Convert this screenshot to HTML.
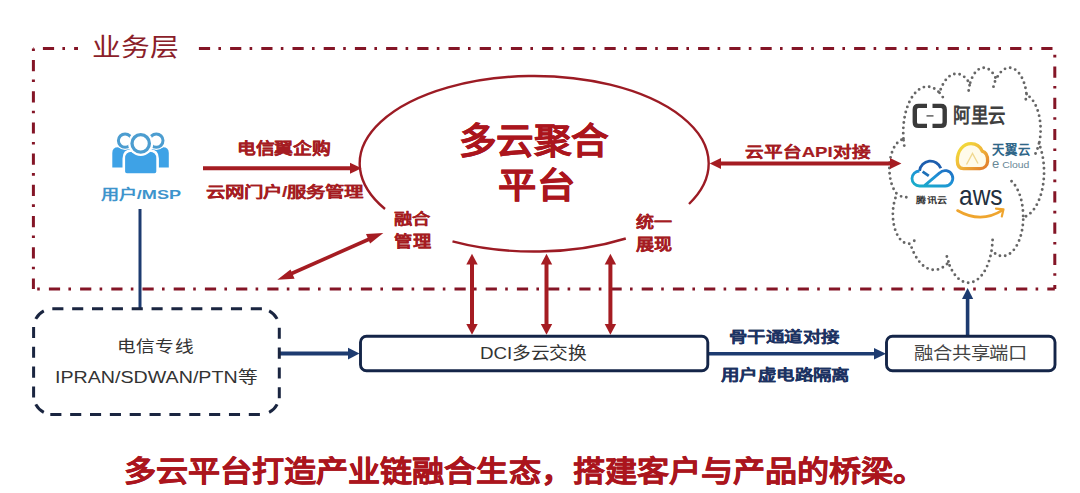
<!DOCTYPE html>
<html lang="zh-CN"><head><meta charset="utf-8">
<style>
html,body{margin:0;padding:0;background:#fff;}
body{width:1080px;height:493px;position:relative;overflow:hidden;font-family:"Liberation Sans",sans-serif;}
svg{position:absolute;left:0;top:0;}
.t{position:absolute;white-space:nowrap;line-height:1;transform-origin:0 0;}
</style></head><body>
<svg width="1080" height="493" viewBox="0 0 1080 493">
<defs>
<marker id="ar" viewBox="0 0 10 10" refX="10" refY="5" markerWidth="10" markerHeight="10" markerUnits="userSpaceOnUse" orient="auto-start-reverse"><path d="M0,0 L10,5 L0,10 z" fill="#a51c22"/></marker>
</defs>
<!-- business layer dash-dot border -->
<g stroke="#841526" stroke-width="3" fill="none" stroke-dasharray="11.2 8.3 2.6 9.1">
<line x1="33.4" y1="48.6" x2="1054.8" y2="48.6" stroke-dashoffset="21.7"/>
<line x1="1054.8" y1="48.6" x2="1054.8" y2="288.9" stroke-dashoffset="13.3"/>
<line x1="33.4" y1="288.9" x2="1054.8" y2="288.9" stroke-dashoffset="15.7"/>
<line x1="33.4" y1="48.6" x2="33.4" y2="288.9" stroke-dashoffset="19.8"/>
</g>
<rect x="78" y="38" width="118" height="22" fill="#fff"/>
<!-- cloud -->
<path d="M903.45,138.52L903.27,135.13L903.23,131.72L903.32,128.31L903.55,124.93L903.91,121.59L904.39,118.31L905.01,115.11L905.75,112.00L906.61,109.01L907.59,106.15L908.67,103.43L909.86,100.87L911.15,98.49L912.52,96.29L913.98,94.30L915.52,92.51L917.12,90.95L918.77,89.62L920.48,88.52L922.22,87.67L923.99,87.07L925.78,86.72L927.58,86.62L929.38,86.77L931.16,87.18L932.93,87.84L934.66,88.75L936.36,89.89L938.00,91.28L939.59,92.89L940.17,90.94L940.82,89.07L941.53,87.28L942.30,85.57L943.12,83.95L943.99,82.44L944.91,81.03L945.88,79.73L946.88,78.55L947.92,77.49L949.00,76.55L950.10,75.74L951.22,75.06L952.37,74.52L953.53,74.11L954.71,73.84L955.89,73.70L957.07,73.71L958.25,73.85L959.42,74.14L960.58,74.56L961.73,75.11L962.86,75.80L963.96,76.62L965.03,77.57L966.07,78.64L967.07,79.83L968.03,81.14L968.94,82.56L969.81,84.08L970.31,82.32L970.88,80.63L971.50,79.02L972.18,77.49L972.91,76.05L973.69,74.71L974.52,73.47L975.39,72.34L976.30,71.32L977.24,70.42L978.21,69.65L979.21,69.00L980.23,68.48L981.26,68.09L982.31,67.83L983.36,67.71L984.42,67.73L985.47,67.87L986.51,68.16L987.54,68.57L988.56,69.12L989.55,69.80L990.52,70.60L991.45,71.52L992.35,72.56L993.22,73.72L994.03,74.98L994.81,76.34L995.53,77.80L996.19,79.35L997.08,77.52L998.03,75.83L999.05,74.28L1000.13,72.87L1001.26,71.62L1002.43,70.54L1003.65,69.63L1004.90,68.89L1006.17,68.34L1007.46,67.96L1008.77,67.77L1010.08,67.77L1011.38,67.95L1012.68,68.32L1013.95,68.87L1015.20,69.60L1016.42,70.51L1017.60,71.59L1018.73,72.83L1019.81,74.23L1020.83,75.77L1021.78,77.46L1022.67,79.28L1023.48,81.23L1024.21,83.28L1024.86,85.42L1025.42,87.66L1025.88,89.97L1026.26,92.34L1026.54,94.75L1027.58,95.35L1028.60,96.06L1029.60,96.88L1030.57,97.80L1031.51,98.83L1032.42,99.96L1033.30,101.19L1034.13,102.51L1034.93,103.91L1035.68,105.40L1036.38,106.97L1037.04,108.62L1037.65,110.33L1038.20,112.10L1038.70,113.93L1039.15,115.82L1039.54,117.74L1039.87,119.71L1040.13,121.71L1040.34,123.73L1040.49,125.78L1040.58,127.83L1040.60,129.90L1040.56,131.96L1040.47,134.01L1040.30,136.05L1040.08,138.07L1039.80,140.06L1039.46,142.02L1039.06,143.94L1040.04,146.53L1040.92,149.25L1041.70,152.07L1042.37,154.99L1042.93,158.00L1043.39,161.06L1043.73,164.18L1043.95,167.34L1044.06,170.52L1044.05,173.71L1043.93,176.89L1043.69,180.04L1043.33,183.15L1042.86,186.21L1042.28,189.21L1041.59,192.11L1040.80,194.92L1039.90,197.62L1038.91,200.20L1037.83,202.63L1036.66,204.92L1035.41,207.06L1034.08,209.02L1032.69,210.80L1031.23,212.39L1029.72,213.79L1028.16,214.99L1026.56,215.98L1024.93,216.76L1023.27,217.32L1023.21,220.08L1023.04,222.83L1022.77,225.55L1022.40,228.23L1021.94,230.85L1021.37,233.40L1020.71,235.87L1019.96,238.25L1019.13,240.52L1018.21,242.67L1017.21,244.69L1016.14,246.58L1015.00,248.32L1013.80,249.90L1012.55,251.32L1011.24,252.56L1009.89,253.63L1008.51,254.52L1007.09,255.21L1005.65,255.72L1004.20,256.04L1002.74,256.15L1001.28,256.08L999.82,255.80L998.38,255.34L996.96,254.68L995.57,253.83L994.21,252.80L992.89,251.60L991.63,250.21L991.04,253.48L990.32,256.65L989.47,259.71L988.51,262.63L987.44,265.42L986.26,268.04L984.97,270.49L983.60,272.74L982.14,274.79L980.60,276.63L978.99,278.25L977.33,279.62L975.61,280.76L973.85,281.65L972.07,282.29L970.26,282.67L968.45,282.79L966.63,282.65L964.82,282.25L963.04,281.59L961.29,280.68L959.57,279.53L957.91,278.13L956.31,276.50L954.78,274.64L953.32,272.57L951.96,270.30L950.68,267.84L949.51,265.21L948.44,262.41L947.17,263.78L945.85,265.02L944.51,266.13L943.14,267.10L941.74,267.93L940.32,268.61L938.88,269.16L937.43,269.55L935.97,269.81L934.51,269.91L933.05,269.86L931.59,269.67L930.13,269.33L928.69,268.85L927.26,268.22L925.86,267.45L924.47,266.54L923.12,265.48L921.79,264.30L920.50,262.98L919.25,261.53L918.04,259.96L916.88,258.27L915.76,256.47L914.70,254.55L913.69,252.53L912.74,250.41L911.85,248.20L911.02,245.91L910.26,243.53L909.00,243.71L907.73,243.70L906.47,243.49L905.22,243.09L903.99,242.50L902.79,241.72L901.63,240.77L900.51,239.63L899.44,238.33L898.44,236.87L897.50,235.26L896.63,233.51L895.85,231.64L895.14,229.65L894.52,227.55L894.00,225.37L893.57,223.12L893.24,220.81L893.01,218.45L892.88,216.07L892.85,213.68L892.93,211.29L893.11,208.92L893.39,206.58L893.77,204.30L894.25,202.08L894.82,199.94L895.48,197.90L896.23,195.96L897.06,194.15L895.97,192.81L894.94,191.30L893.98,189.64L893.09,187.83L892.29,185.88L891.58,183.81L890.96,181.64L890.43,179.37L890.01,177.03L889.70,174.63L889.49,172.19L889.38,169.72L889.39,167.25L889.50,164.79L889.73,162.35L890.05,159.96L890.49,157.62L891.02,155.37L891.65,153.20L892.37,151.15L893.18,149.21L894.07,147.42L895.04,145.77L896.08,144.28L897.18,142.96L898.33,141.82L899.53,140.86L900.77,140.10L902.03,139.54L903.32,139.19ZM906.28,197.28L905.34,197.36L904.40,197.34L903.46,197.21L902.52,196.97L901.59,196.62L900.68,196.16L899.79,195.60L898.91,194.94L898.05,194.17L897.22,193.31M914.28,240.69L913.89,240.96L913.51,241.22L913.12,241.46L912.72,241.68L912.33,241.88L911.93,242.06L911.53,242.22L911.13,242.36L910.72,242.49L910.31,242.59M948.43,261.55L948.15,260.73L947.88,259.89L947.61,259.05L947.36,258.20L947.12,257.34L946.88,256.46L946.66,255.58L946.44,254.69L946.24,253.79L946.04,252.89M992.60,239.95L992.55,240.92L992.49,241.88L992.42,242.84L992.34,243.80L992.25,244.75L992.15,245.70L992.04,246.65L991.92,247.59L991.79,248.52L991.64,249.45M1011.56,181.24L1013.59,183.39L1015.48,185.95L1017.21,188.91L1018.75,192.21L1020.08,195.81L1021.20,199.68L1022.07,203.76L1022.70,208.00L1023.07,212.35L1023.19,216.75M1038.99,143.41L1038.62,144.93L1038.22,146.42L1037.78,147.87L1037.31,149.28L1036.80,150.64L1036.26,151.96L1035.69,153.23L1035.09,154.45L1034.47,155.62L1033.81,156.73M1026.56,94.00L1026.50,94.66L1026.42,95.31L1026.34,95.97L1026.25,96.61L1026.16,97.26L1026.06,97.90L1025.95,98.53L1025.84,99.17L1025.71,99.79L1025.59,100.42M993.49,86.67L993.70,85.81L993.92,84.95L994.16,84.11L994.41,83.29L994.67,82.48L994.94,81.68L995.22,80.90L995.52,80.13L995.83,79.38L996.15,78.65M968.68,90.49L968.77,89.77L968.87,89.06L968.97,88.36L969.09,87.65L969.21,86.96L969.35,86.27L969.49,85.58L969.64,84.91L969.80,84.24L969.97,83.57M939.57,92.84L940.07,93.41L940.57,94.01L941.05,94.63L941.53,95.27L942.00,95.93L942.46,96.61L942.92,97.32L943.36,98.04L943.79,98.79L944.22,99.55M904.26,145.58L904.15,144.89L904.05,144.19L903.95,143.49L903.86,142.79L903.78,142.08L903.70,141.37L903.63,140.66L903.56,139.95L903.50,139.23L903.45,138.52" fill="none" stroke="#666" stroke-width="2.9" stroke-linecap="round" stroke-dasharray="0 5.35"/>
<!-- ellipse arcs -->
<path d="M385,209 A174.5,87.6 0 1 1 689,204" fill="none" stroke="#9c1b24" stroke-width="2.4"/>
<path d="M452.5,241.4 A174.5,87.6 0 0 0 625.8,238.5" fill="none" stroke="#9c1b24" stroke-width="2.4"/>
<!-- red arrows -->
<g stroke="#a51c22" stroke-width="4" fill="#a51c22">
<line x1="203" y1="168.3" x2="352" y2="168.3"/>
<path d="M361.6,168.3 L350,162.8 L350,173.8 z" stroke="none"/>
<line x1="720" y1="163.5" x2="891" y2="163.5"/>
<path d="M709.7,163.5 L721,158 L721,169 z" stroke="none"/>
<path d="M901.4,163.5 L890,158 L890,169 z" stroke="none"/>
<line x1="472" y1="263" x2="472" y2="325"/>
<path d="M472,253.8 L466.3,264.5 L477.7,264.5 z" stroke="none"/>
<path d="M472,334.8 L466.3,324 L477.7,324 z" stroke="none"/>
<line x1="546.5" y1="263" x2="546.5" y2="325"/>
<path d="M546.5,253.8 L540.8,264.5 L552.2,264.5 z" stroke="none"/>
<path d="M546.5,334.8 L540.8,324 L552.2,324 z" stroke="none"/>
<line x1="610.4" y1="263" x2="610.4" y2="325"/>
<path d="M610.4,253.8 L604.7,264.5 L616.1,264.5 z" stroke="none"/>
<path d="M610.4,334.8 L604.7,324 L616.1,324 z" stroke="none"/>
</g>
<!-- diagonal double arrow -->
<g stroke="#a51c22" stroke-width="3.6" fill="#a51c22">
<line x1="286" y1="276" x2="374" y2="237"/>
<path d="M277.3,279.8 L290.5,269.5 L294.6,278.8 z" stroke="none"/>
<path d="M383.3,233.1 L370.1,243.4 L366,234.1 z" stroke="none"/>
</g>
<!-- blue lines/arrows -->
<g stroke="#1d3b70" fill="#1d3b70">
<line x1="140" y1="209" x2="140" y2="308.5" stroke-width="3"/>
<line x1="280" y1="353.6" x2="350" y2="353.6" stroke-width="4"/>
<path d="M359.5,353.6 L348,347.8 L348,359.4 z" stroke="none"/>
<line x1="708" y1="353.8" x2="876" y2="353.8" stroke-width="3.6"/>
<path d="M886,353.8 L874,348 L874,359.6 z" stroke="none"/>
<line x1="967.6" y1="336" x2="967.6" y2="296" stroke-width="3.6"/>
<path d="M967.6,288 L962,299 L973.2,299 z" stroke="none"/>
</g>
<!-- user icon -->
<g>
<path d="M112.3,167.6 L112.3,153 Q112.3,147.3 118,147.3 L132,147.3 L132,167.6 Z" fill="#3ea2e6"/>
<path d="M168.8,167.6 L168.8,153 Q168.8,147.3 163.1,147.3 L149,147.3 L149,167.6 Z" fill="#3ea2e6"/>
<circle cx="125.1" cy="140.6" r="9.4" fill="#fff"/>
<circle cx="156.3" cy="140.6" r="9.4" fill="#fff"/>
<circle cx="125.1" cy="140.6" r="6.7" fill="none" stroke="#4c9dd0" stroke-width="3"/>
<circle cx="156.3" cy="140.6" r="6.7" fill="none" stroke="#4c9dd0" stroke-width="3"/>
<path d="M123.8,171.5 L123.8,158.5 Q123.8,150.5 131.8,150.5 L149.6,150.5 Q157.6,150.5 157.6,158.5 L157.6,171.5 Q157.6,174.6 154.5,174.6 L126.9,174.6 Q123.8,174.6 123.8,171.5 Z" fill="#3ea2e6" stroke="#fff" stroke-width="2.6"/>
<circle cx="140.7" cy="143.4" r="12.6" fill="#fff"/>
<circle cx="140.7" cy="143.4" r="8.7" fill="none" stroke="#4c9dd0" stroke-width="3.3"/>
</g>
<!-- alibaba cloud logo -->
<g fill="none" stroke="#3a3a3a" stroke-width="4.4">
<path d="M927,105.9 L918.5,105.9 Q914.8,105.9 914.8,109.6 L914.8,122.2 Q914.8,125.9 918.5,125.9 L927,125.9"/>
<path d="M932.5,105.9 L941,105.9 Q944.7,105.9 944.7,109.6 L944.7,122.2 Q944.7,125.9 941,125.9 L932.5,125.9"/>
</g>
<line x1="926.5" y1="115.9" x2="933.5" y2="115.9" stroke="#555" stroke-width="1.4"/>
<!-- tianyi cloud logo -->
<defs>
<linearGradient id="ty" x1="0" y1="0" x2="1" y2="1"><stop offset="0" stop-color="#f2e23a"/><stop offset="0.5" stop-color="#f0b83a"/><stop offset="1" stop-color="#e0782a"/></linearGradient>
<linearGradient id="tx" x1="0" y1="0" x2="1" y2="1"><stop offset="0" stop-color="#1d58a6"/><stop offset="0.5" stop-color="#19a0c0"/><stop offset="1" stop-color="#1f8ed8"/></linearGradient>
</defs>
<path d="M963.5,168.6 C959,168.6 957.3,165 957.3,160.5 C957.3,150.5 963.5,143.6 971,143.6 C977,143.6 980.5,147 982.2,151.2 C986,152.2 987.8,156.5 987.6,161.3 C987.3,165.8 984,168.6 980,168.6 Z" fill="#fffbea" stroke="url(#ty)" stroke-width="3.3"/>
<path d="M966.5,164.5 L972.5,153.5 L978,163.5" fill="none" stroke="#f0d890" stroke-width="1.4"/>
<!-- tencent cloud logo -->
<defs><linearGradient id="tx2" x1="0" y1="1" x2="1" y2="0"><stop offset="0" stop-color="#1ab0c8"/><stop offset="0.6" stop-color="#1e90d6"/><stop offset="1" stop-color="#1f6cc0"/></linearGradient></defs>
<g fill="none" stroke-width="2.8">
<path d="M919.6,170.8 A11,11 0 0 1 940.8,168.2" stroke="#1d5eae"/>
<path d="M922.6,171.6 L928.8,175.8" stroke="#1d70b8"/>
<path d="M919.5,171 A7.5,7.5 0 0 0 919.5,186 L945,186 A7.7,7.7 0 1 0 939.6,172.9 L924.5,185.6" stroke="url(#tx2)"/>
</g>
<!-- aws smile -->
<path d="M957.5,210.5 Q981,224 1002.5,210.2" fill="none" stroke="#efa52e" stroke-width="2.6" stroke-linecap="round"/>
<path d="M996,208.6 L1003.5,209.3 L1001.8,216.5" fill="none" stroke="#efa52e" stroke-width="2.2" stroke-linecap="round" stroke-linejoin="round"/>
<!-- dashed rounded box -->
<g stroke="#1a2540" stroke-width="3" fill="none">
<path d="M35.77,318.88 A19,19 0 0 1 43.78,310.87 M269.12,310.87 A19,19 0 0 1 277.13,318.88 M277.13,404.42 A19,19 0 0 1 269.12,412.43 M43.78,412.43 A19,19 0 0 1 35.77,404.42"/>
<g stroke-dasharray="11.1 8.75">
<line x1="52.3" y1="308.7" x2="262" y2="308.7"/>
<line x1="279.3" y1="327.7" x2="279.3" y2="398.5"/>
<line x1="50.3" y1="414.6" x2="262" y2="414.6"/>
<line x1="33.6" y1="326.9" x2="33.6" y2="398"/>
</g></g>
<!-- solid boxes -->
<rect x="360.5" y="336.3" width="347.3" height="34.5" rx="6" ry="6" fill="#fff" stroke="#142548" stroke-width="2.9"/>
<rect x="886.5" y="336.3" width="168.5" height="34.5" rx="6" ry="6" fill="#fff" stroke="#142548" stroke-width="2.9"/>
</svg>
<div class="t" id="ywc" style="left:92.44px;top:35.23px;font-size:24.91px;transform:scaleX(1.1531);color:#8b1e2a;">业务层</div>
<div class="t" id="msp" style="left:100.77px;top:187.65px;font-size:13.19px;transform:scaleX(1.3751);font-weight:bold;color:#3e94cc;">用户/MSP</div>
<div class="t" id="dxy" style="left:237.25px;top:139.59px;font-size:16.14px;transform:scaleX(1.1678);font-weight:bold;color:#a51c22;-webkit-text-stroke:0.15px currentColor;">电信翼企购</div>
<div class="t" id="ywm" style="left:206.29px;top:185.32px;font-size:14.32px;transform:scaleX(1.3564);font-weight:bold;color:#a51c22;-webkit-text-stroke:0.15px currentColor;">云网门户/服务管理</div>
<div class="t" id="dy1" style="left:459.42px;top:124.07px;font-size:36.17px;transform:scaleX(1.0383);font-weight:bold;color:#ab151d;-webkit-text-stroke:0.30px currentColor;">多云聚合</div>
<div class="t" id="dy2" style="left:497.75px;top:169.42px;font-size:35.79px;transform:scaleX(1.0707);font-weight:bold;color:#ab151d;-webkit-text-stroke:0.30px currentColor;">平台</div>
<div class="t" id="rh1" style="left:393.98px;top:211.51px;font-size:14.35px;transform:scaleX(1.2696);font-weight:bold;color:#a51c22;-webkit-text-stroke:0.15px currentColor;">融合</div>
<div class="t" id="rh2" style="left:394.30px;top:233.56px;font-size:15.62px;transform:scaleX(1.1647);font-weight:bold;color:#a51c22;-webkit-text-stroke:0.15px currentColor;">管理</div>
<div class="t" id="ty1" style="left:635.56px;top:214.48px;font-size:15.14px;transform:scaleX(1.1886);font-weight:bold;color:#a51c22;-webkit-text-stroke:0.15px currentColor;">统一</div>
<div class="t" id="ty2" style="left:635.94px;top:236.20px;font-size:16.43px;transform:scaleX(1.0994);font-weight:bold;color:#a51c22;-webkit-text-stroke:0.15px currentColor;">展现</div>
<div class="t" id="api" style="left:744.70px;top:144.95px;font-size:14.79px;transform:scaleX(1.2593);font-weight:bold;color:#a51c22;-webkit-text-stroke:0.15px currentColor;">云平台API对接</div>
<div class="t" id="dxz" style="left:116.61px;top:338.60px;font-size:15.60px;transform:scaleX(1.1995);color:#333;">电信专线</div>
<div class="t" id="ipr" style="left:54.91px;top:369.63px;font-size:16.70px;transform:scaleX(1.1774);color:#333;">IPRAN/SDWAN/PTN等</div>
<div class="t" id="dci" style="left:480.47px;top:345.47px;font-size:17.10px;transform:scaleX(1.0955);color:#333;">DCI多云交换</div>
<div class="t" id="ggt" style="left:728.54px;top:329.84px;font-size:14.95px;transform:scaleX(1.2326);font-weight:bold;color:#1c3262;-webkit-text-stroke:0.15px currentColor;">骨干通道对接</div>
<div class="t" id="yhx" style="left:720.61px;top:366.50px;font-size:15.05px;transform:scaleX(1.2273);font-weight:bold;color:#1c3262;-webkit-text-stroke:0.15px currentColor;">用户虚电路隔离</div>
<div class="t" id="rhg" style="left:913.82px;top:344.92px;font-size:17.39px;transform:scaleX(1.1101);color:#444;">融合共享端口</div>
<div class="t" id="aly" style="left:952.68px;top:106.48px;font-size:20.62px;transform:scaleX(0.8449);font-weight:bold;color:#404040;">阿里云</div>
<div class="t" id="tyy" style="left:991.56px;top:144.25px;font-size:12.63px;transform:scaleX(0.9815);font-weight:bold;color:#2f6688;">天翼云</div>
<div class="t" id="ecl" style="left:991.51px;top:158.04px;font-size:12.46px;transform:scaleX(1.0478);color:#688796;">e<span style="font-size:0.8em"> Cloud</span></div>
<div class="t" id="txy" style="left:916.41px;top:196.60px;font-size:7.54px;transform:scaleX(1.3281);font-weight:bold;color:#333;">腾讯云</div>
<div class="t" id="aws" style="left:959.42px;top:181.66px;font-size:27.74px;transform:scaleX(0.8845);color:#232f3e;">aws</div>
<div class="t" id="btm" style="left:124.22px;top:457.99px;font-size:29.06px;transform:scaleX(1.1049);font-weight:bold;color:#ab151d;-webkit-text-stroke:0.30px currentColor;">多云平台打造产业链融合生态，搭建客户与产品的桥梁。</div>
</body></html>
